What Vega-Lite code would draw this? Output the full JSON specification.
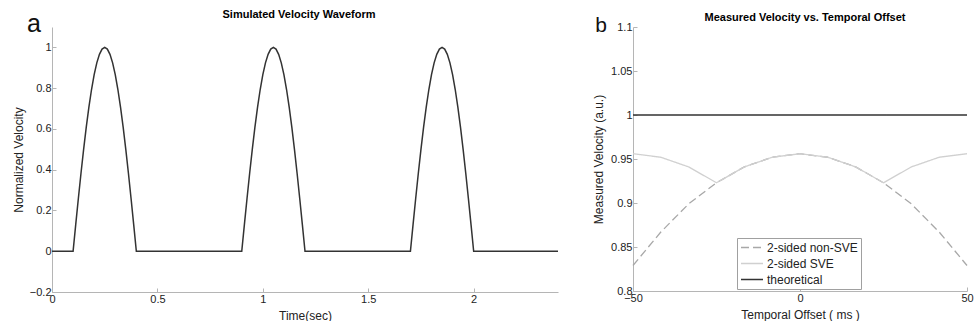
{
  "$schema": "https://vega.github.io/schema/vega-lite/v6.json",
  "background": "white",
  "padding": {"left": 12, "top": 9, "right": 0, "bottom": 0},
  "spacing": 31,
  "config": {
    "view": {"stroke": null},
    "font": "Liberation Sans",
    "axis": {
      "grid": false,
      "domainColor": "#b5b5b5",
      "tickColor": "#b5b5b5",
      "tickSize": -4,
      "labelColor": "#222222",
      "labelFontSize": 11,
      "labelFont": "Liberation Sans",
      "labelFlush": false,
      "labelPadding": 5,
      "titleColor": "#222222",
      "titleFont": "Liberation Sans",
      "titleFontSize": 12,
      "titleFontWeight": "normal",
      "titlePadding": 4
    },
    "axisX": {"titlePadding": 6},
    "title": {"font": "Liberation Sans", "fontSize": 11, "fontWeight": "bold", "color": "#000000", "frame": "group", "offset": -8}
  },
  "hconcat": [
    {
      "width": 506,
      "height": 265,
      "title": {"text": "Simulated Velocity Waveform", "dx": -6},
      "encoding": {
        "x": {"field": "t", "type": "quantitative", "scale": {"domain": [0, 2.4], "nice": false, "zero": false}, "axis": {"title": "Time(sec)", "values": [0, 0.5, 1, 1.5, 2], "format": "~g"}},
        "y": {"field": "v", "type": "quantitative", "scale": {"domain": [-0.2, 1.1], "nice": false, "zero": false}, "axis": {"title": "Normalized Velocity", "values": [-0.2, 0, 0.2, 0.4, 0.6, 0.8, 1], "format": "~g"}}
      },
      "layer": [
        {
          "data": {"values": [
            {"t": 0, "v": 0}, {"t": 0.1, "v": 0},
            {"t": 0.1125, "v": 0.1305}, {"t": 0.125, "v": 0.2588}, {"t": 0.1375, "v": 0.3827}, {"t": 0.15, "v": 0.5}, {"t": 0.1625, "v": 0.6088}, {"t": 0.175, "v": 0.7071}, {"t": 0.1875, "v": 0.7934}, {"t": 0.2, "v": 0.866}, {"t": 0.2125, "v": 0.9239}, {"t": 0.225, "v": 0.9659}, {"t": 0.2375, "v": 0.9914}, {"t": 0.25, "v": 1},
            {"t": 0.2625, "v": 0.9914}, {"t": 0.275, "v": 0.9659}, {"t": 0.2875, "v": 0.9239}, {"t": 0.3, "v": 0.866}, {"t": 0.3125, "v": 0.7934}, {"t": 0.325, "v": 0.7071}, {"t": 0.3375, "v": 0.6088}, {"t": 0.35, "v": 0.5}, {"t": 0.3625, "v": 0.3827}, {"t": 0.375, "v": 0.2588}, {"t": 0.3875, "v": 0.1305}, {"t": 0.4, "v": 0},
            {"t": 0.9, "v": 0},
            {"t": 0.9125, "v": 0.1305}, {"t": 0.925, "v": 0.2588}, {"t": 0.9375, "v": 0.3827}, {"t": 0.95, "v": 0.5}, {"t": 0.9625, "v": 0.6088}, {"t": 0.975, "v": 0.7071}, {"t": 0.9875, "v": 0.7934}, {"t": 1.0, "v": 0.866}, {"t": 1.0125, "v": 0.9239}, {"t": 1.025, "v": 0.9659}, {"t": 1.0375, "v": 0.9914}, {"t": 1.05, "v": 1},
            {"t": 1.0625, "v": 0.9914}, {"t": 1.075, "v": 0.9659}, {"t": 1.0875, "v": 0.9239}, {"t": 1.1, "v": 0.866}, {"t": 1.1125, "v": 0.7934}, {"t": 1.125, "v": 0.7071}, {"t": 1.1375, "v": 0.6088}, {"t": 1.15, "v": 0.5}, {"t": 1.1625, "v": 0.3827}, {"t": 1.175, "v": 0.2588}, {"t": 1.1875, "v": 0.1305}, {"t": 1.2, "v": 0},
            {"t": 1.7, "v": 0},
            {"t": 1.7125, "v": 0.1305}, {"t": 1.725, "v": 0.2588}, {"t": 1.7375, "v": 0.3827}, {"t": 1.75, "v": 0.5}, {"t": 1.7625, "v": 0.6088}, {"t": 1.775, "v": 0.7071}, {"t": 1.7875, "v": 0.7934}, {"t": 1.8, "v": 0.866}, {"t": 1.8125, "v": 0.9239}, {"t": 1.825, "v": 0.9659}, {"t": 1.8375, "v": 0.9914}, {"t": 1.85, "v": 1},
            {"t": 1.8625, "v": 0.9914}, {"t": 1.875, "v": 0.9659}, {"t": 1.8875, "v": 0.9239}, {"t": 1.9, "v": 0.866}, {"t": 1.9125, "v": 0.7934}, {"t": 1.925, "v": 0.7071}, {"t": 1.9375, "v": 0.6088}, {"t": 1.95, "v": 0.5}, {"t": 1.9625, "v": 0.3827}, {"t": 1.975, "v": 0.2588}, {"t": 1.9875, "v": 0.1305}, {"t": 2.0, "v": 0},
            {"t": 2.4, "v": 0}
          ]},
          "mark": {"type": "line", "color": "#333333", "strokeWidth": 1.5}
        },
        {
          "data": {"values": [{"t": -0.0855, "v": 1.0735, "label": "a"}]},
          "mark": {"type": "text", "fontSize": 25, "align": "center", "baseline": "alphabetic", "color": "#111111", "font": "Liberation Sans"},
          "encoding": {"text": {"field": "label"}}
        }
      ]
    },
    {
      "width": 334,
      "height": 264,
      "title": {"text": "Measured Velocity vs. Temporal Offset", "dx": 5},
      "encoding": {
        "x": {"field": "x", "type": "quantitative", "scale": {"domain": [-50, 50], "nice": false, "zero": false}, "axis": {"title": "Temporal Offset ( ms )", "values": [-50, 0, 50], "format": "~g"}},
        "y": {"field": "v", "type": "quantitative", "scale": {"domain": [0.8, 1.1], "nice": false, "zero": false}, "axis": {"title": "Measured Velocity (a.u.)", "values": [0.8, 0.85, 0.9, 0.95, 1, 1.05, 1.1], "format": "~g", "titlePadding": 5}}
      },
      "layer": [
        {
          "data": {"values": [
            {"x": -50, "v": 0.829, "series": "2-sided non-SVE"},
            {"x": -41.67, "v": 0.867, "series": "2-sided non-SVE"},
            {"x": -33.33, "v": 0.899, "series": "2-sided non-SVE"},
            {"x": -25, "v": 0.923, "series": "2-sided non-SVE"},
            {"x": -16.67, "v": 0.941, "series": "2-sided non-SVE"},
            {"x": -8.33, "v": 0.952, "series": "2-sided non-SVE"},
            {"x": 0, "v": 0.956, "series": "2-sided non-SVE"},
            {"x": 8.33, "v": 0.952, "series": "2-sided non-SVE"},
            {"x": 16.67, "v": 0.941, "series": "2-sided non-SVE"},
            {"x": 25, "v": 0.923, "series": "2-sided non-SVE"},
            {"x": 33.33, "v": 0.899, "series": "2-sided non-SVE"},
            {"x": 41.67, "v": 0.867, "series": "2-sided non-SVE"},
            {"x": 50, "v": 0.829, "series": "2-sided non-SVE"},
            {"x": -50, "v": 0.956, "series": "2-sided SVE"},
            {"x": -41.67, "v": 0.952, "series": "2-sided SVE"},
            {"x": -33.33, "v": 0.941, "series": "2-sided SVE"},
            {"x": -25, "v": 0.923, "series": "2-sided SVE"},
            {"x": -16.67, "v": 0.941, "series": "2-sided SVE"},
            {"x": -8.33, "v": 0.952, "series": "2-sided SVE"},
            {"x": 0, "v": 0.956, "series": "2-sided SVE"},
            {"x": 8.33, "v": 0.952, "series": "2-sided SVE"},
            {"x": 16.67, "v": 0.941, "series": "2-sided SVE"},
            {"x": 25, "v": 0.923, "series": "2-sided SVE"},
            {"x": 33.33, "v": 0.941, "series": "2-sided SVE"},
            {"x": 41.67, "v": 0.952, "series": "2-sided SVE"},
            {"x": 50, "v": 0.956, "series": "2-sided SVE"},
            {"x": -50, "v": 1.0, "series": "theoretical"},
            {"x": 50, "v": 1.0, "series": "theoretical"}
          ]},
          "mark": {"type": "line", "strokeWidth": 1.3},
          "encoding": {
            "color": {"field": "series", "type": "nominal", "scale": {"domain": ["2-sided non-SVE", "2-sided SVE", "theoretical"], "range": ["#a8a8a8", "#d0d0d0", "#333333"]},
              "legend": {"title": null, "orient": "none", "legendX": 685, "legendY": 211, "strokeColor": "#a0a0a0", "fillColor": "white", "padding": 3, "symbolType": "M-1,0H3", "symbolSize": 121, "symbolStrokeWidth": 1.5, "labelFontSize": 12, "labelFont": "Liberation Sans", "labelColor": "#222222", "labelOffset": 14, "rowPadding": 3, "cornerRadius": 0}},
            "strokeDash": {"field": "series", "type": "nominal", "scale": {"domain": ["2-sided non-SVE", "2-sided SVE", "theoretical"], "range": [[8, 4], [1, 0], [1, 0]]}, "legend": null}
          }
        },
        {
          "data": {"values": [{"x": -59.55, "v": 1.0943, "label": "b"}]},
          "mark": {"type": "text", "fontSize": 21, "align": "center", "baseline": "alphabetic", "color": "#111111", "font": "Liberation Sans"},
          "encoding": {"text": {"field": "label"}}
        }
      ]
    }
  ]
}
